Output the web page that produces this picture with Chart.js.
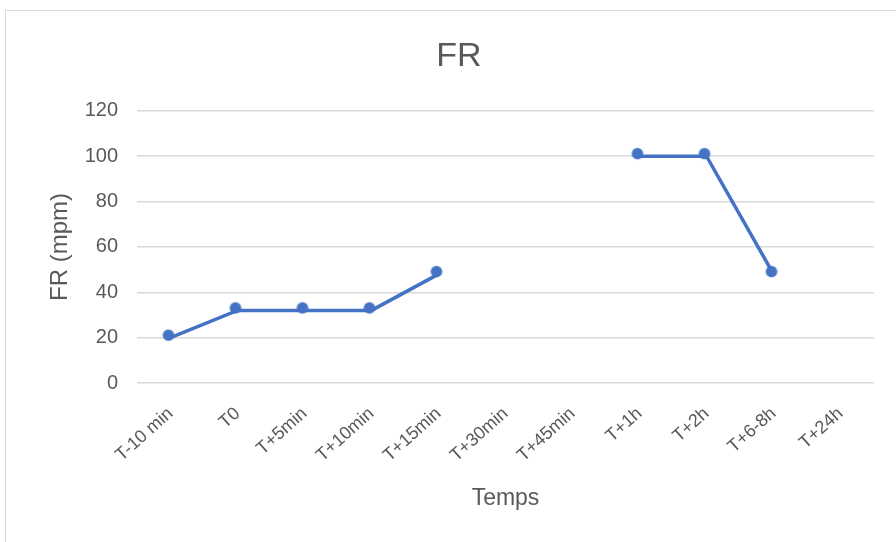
<!DOCTYPE html>
<html>
<head>
<meta charset="utf-8">
<script src="https://cdn.jsdelivr.net/npm/chart.js@4.4.0/dist/chart.umd.min.js"></script>
<style>
  html, body { margin: 0; padding: 0; background: #fff; overflow: hidden; width: 896px; height: 542px; }
  #frame { position: absolute; left: 5px; top: 10px; width: 920px; height: 560px; border: 1.5px solid #d9d9d9; }
  #wrap { position: absolute; left: 0; top: 0; width: 918px; height: 542px; }
</style>
</head>
<body>
<div id="frame"></div>
<div id="wrap"><canvas id="frChart" width="918" height="542"></canvas></div>
<script>
// Temps de mesure et fréquence respiratoire (mpm)
const categories = ['T-10 min', 'T0', 'T+5min', 'T+10min', 'T+15min', 'T+30min', 'T+45min', 'T+1h', 'T+2h', 'T+6-8h', 'T+24h'];
const frValues = [20, 32, 32, 32, 48, null, null, 100, 100, 48, null];
const yTicks = [0, 20, 40, 60, 80, 100, 120];

const textColor = '#595959';
const lineColor = '#4472C4';
const gridColor = '#d9d9d9';
const fontFamily = '"Liberation Sans", Arial, sans-serif';

// marqueur rond légèrement décalé, comme dans l'export Excel
function makeMarker() {
  const c = document.createElement('canvas');
  c.width = 18; c.height = 18;
  const g = c.getContext('2d');
  g.fillStyle = lineColor;
  g.beginPath();
  g.arc(7, 6.5, 5.8, 0, Math.PI * 2);
  g.fill();
  return c;
}
const marker = makeMarker();

const ctx = document.getElementById('frChart').getContext('2d');
new Chart(ctx, {
  type: 'line',
  data: {
    labels: categories,
    datasets: [{
      label: 'FR',
      data: frValues,
      borderColor: lineColor,
      backgroundColor: lineColor,
      borderWidth: 3.5,
      pointStyle: marker,
      tension: 0,
      spanGaps: false
    }]
  },
  options: {
    responsive: false,
    animation: false,
    devicePixelRatio: 1,
    layout: { padding: { left: 44, right: 44, top: 0, bottom: 0 } },
    plugins: {
      legend: { display: false },
      tooltip: { enabled: false },
      title: {
        display: true,
        text: 'FR',
        color: textColor,
        font: { family: fontFamily, size: 34, weight: 'normal' },
        padding: { top: 36, bottom: 34 }
      }
    },
    scales: {
      x: {
        offset: true,
        grid: { display: false, drawTicks: false },
        border: { display: false },
        ticks: {
          color: textColor,
          font: { family: fontFamily, size: 18 },
          minRotation: 42,
          maxRotation: 42,
          padding: 20,
          autoSkip: false
        },
        title: {
          display: true,
          text: 'Temps',
          color: textColor,
          font: { family: fontFamily, size: 23 },
          padding: { top: 4, bottom: 30 }
        },
        afterFit: (scale) => { scale.height = 159; }
      },
      y: {
        min: 0,
        max: 120,
        afterBuildTicks: (scale) => { scale.ticks = yTicks.map(v => ({ value: v })); },
        grid: { color: gridColor, lineWidth: 1.5, drawTicks: false },
        border: { display: false },
        ticks: {
          color: textColor,
          font: { family: fontFamily, size: 20 },
          padding: 19
        },
        title: {
          display: true,
          text: 'FR (mpm)',
          color: textColor,
          font: { family: fontFamily, size: 24 },
          padding: { top: 2, bottom: 0 }
        },
        afterFit: (scale) => { scale.width = 93; }
      }
    }
  }
});
</script>
</body>
</html>
